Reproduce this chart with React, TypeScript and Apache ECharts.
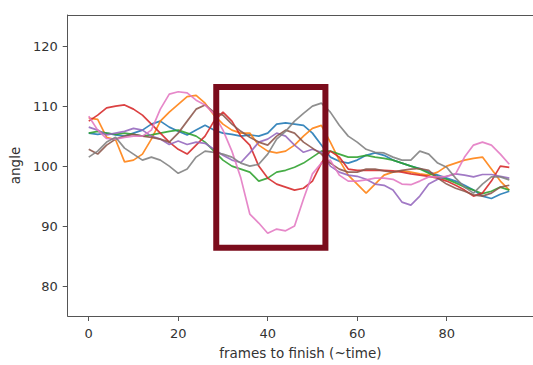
import React, { useEffect, useRef } from "react";
import * as echarts from "echarts";

const frames = [0, 2, 4, 6, 8, 10, 12, 14, 16, 18, 20, 22, 24, 26, 28, 30, 32, 34, 36, 38, 40, 42, 44, 46, 48, 50, 52, 54, 56, 58, 60, 62, 64, 66, 68, 70, 72, 74, 76, 78, 80, 82, 84, 86, 88, 90, 92, 94];

const blue = [105.5, 105.3, 105.5, 105.2, 105, 105.5, 106, 107, 107.5, 106.5, 105.8, 105.2, 106, 106.8, 106, 105.5, 105.3, 105, 105.2, 105, 105.5, 107, 107.2, 107, 106.8, 105.5, 103.5, 101.5, 100.8, 100.5, 101, 101.8, 102.2, 101.8, 101, 100.5, 100, 99.6, 99, 98.5, 98, 97.5, 96.8, 96, 95, 94.6, 95.3, 95.8];
const orange = [108, 107.8, 104.8, 104.4, 100.7, 101, 102, 104.5, 107.5, 109, 110.3, 111.6, 111.8, 110.5, 108.5, 107, 106, 105.5, 105.5, 103.5, 102.5, 102.2, 102.5, 103.5, 105, 106.3, 106.8, 104, 101, 98.5, 97, 95.5, 97, 98.5, 99, 99.2, 99, 98.7, 98.5, 99, 100, 100.5, 101, 101.3, 101.5, 99.5, 97.5, 96];
const green = [105.5, 105.8, 105.5, 105.3, 105.5, 105.3, 105, 105.2, 105.5, 105.8, 106, 105.5, 105, 104, 102.5, 101, 100, 99.5, 99, 97.5, 98, 99, 99.3, 99.8, 100.5, 101.5, 102.5, 102.5, 102, 101.5, 101.5, 101.8, 101.5, 101.3, 101, 100.5, 100, 99.5, 98.8, 98.2, 97.8, 97.2, 96.5, 96, 95.4, 95.8, 96.5, 96];
const red = [107.5, 108.5, 109.7, 110, 110.2, 109.5, 108.5, 107, 105.5, 104, 102.8, 102, 103.5, 105, 107.5, 109, 107.5, 105, 103.5, 100, 98, 97, 96.5, 96, 96.3, 97.5, 100.5, 102.5, 101.5, 99.5, 99.3, 99.3, 99.3, 99.3, 99.2, 99, 98.7, 98.5, 98.3, 98, 97.5, 96.8, 96, 95, 95.5, 97.5, 100, 99.8];
const purple = [106.5, 106, 105.2, 105.5, 105.8, 106.3, 106, 105, 104.5, 103.6, 104.2, 103.6, 104, 103.8, 102.8, 101.8, 101, 100.6, 102.2, 104, 104.5, 105.5, 105, 103.5, 102.3, 102.8, 102.3, 100, 99, 98.5, 98.3, 97.8, 97, 96.8, 96, 94, 93.5, 95, 97, 97.8, 98.3, 98.7, 98.5, 98.2, 98.6, 98.6, 98.3, 98];
const brown = [102.8, 102, 103.5, 104.5, 105, 105.3, 105, 104.8, 104.5, 104, 105.5, 107.5, 109.5, 110.2, 109, 108.5, 107, 105.8, 104.8, 104, 103.5, 105, 106, 105.5, 104, 103, 102, 100.5, 99.5, 99, 99, 99.5, 99.5, 99.2, 99, 99.3, 99.5, 99.6, 99.3, 98, 97, 96.3, 95.8, 95.2, 95, 95.5, 96.5, 96.8];
const pink = [108.3, 106, 104.6, 104.5, 104.8, 105, 105, 106, 109.5, 112, 112.4, 112.2, 111, 110.2, 108.7, 106, 102.5, 98, 92, 90.5, 88.8, 89.5, 89.2, 90, 94.5, 98.7, 100.5, 101, 98.5, 97.5, 97.5, 97.7, 98, 98, 97.8, 97, 96.9, 97.5, 98.2, 98.2, 98.3, 98.7, 101.5, 103.5, 104, 103.5, 102, 100.3];
const gray = [101.5, 102.5, 104, 104.8, 103, 102, 101, 101.5, 101, 100, 98.8, 99.5, 101.5, 102.5, 102.3, 102, 101.5, 100.5, 100, 100.3, 102, 104.5, 105.8, 107.5, 108.8, 110, 110.5, 109, 106.8, 105, 104, 102.8, 102.3, 102.2, 101.5, 101, 101, 102.5, 102, 100.5, 99.8, 98, 96.5, 95.5, 97, 98.2, 98.2, 97.7];

const seriesValues = [blue, orange, green, red, purple, brown, pink, gray];
const seriesColors = ["#1f77b4", "#ff7f0e", "#2ca02c", "#d62728", "#9467bd", "#8c564b", "#e377c2", "#7f7f7f"];

const xTicks = [0, 20, 40, 60, 80];
const yTicks = [80, 90, 100, 110, 120];

const boxX = [28.5, 52.9];
const boxY = [86.4, 113.2];

export default function App() {
  const ref = useRef<HTMLDivElement>(null);
  useEffect(() => {
    if (!ref.current) return;
    const chart = echarts.init(ref.current, null, { renderer: "svg" });
    const font = "DejaVu Sans";
    const lines = seriesValues.map((vals, i) => ({
      type: "line",
      data: frames.map((f, j) => [f, vals[j]]),
      symbol: "none",
      lineStyle: { color: seriesColors[i], width: 1.7, opacity: 0.88 },
      itemStyle: { color: seriesColors[i] },
      z: 2 + i,
    }));
    const box = {
      type: "line",
      data: [
        [boxX[0], boxY[1]],
        [boxX[1], boxY[1]],
        [boxX[1], boxY[0]],
        [boxX[0], boxY[0]],
        [boxX[0], boxY[1]],
      ],
      symbol: "none",
      lineStyle: { color: "#7b0c1c", width: 6, join: "miter", cap: "square" },
      z: 20,
    };
    chart.setOption({
      animation: false,
      grid: { left: 67, right: -1, top: 15, bottom: 44 },
      xAxis: [
        {
          type: "value",
          min: -4.7,
          max: 99.3,
          splitLine: { show: false },
          axisLine: { show: true, onZero: false, lineStyle: { color: "#555", width: 1 } },
          axisTick: { show: true, length: 5, customValues: xTicks, lineStyle: { color: "#555" } },
          axisLabel: { customValues: xTicks, color: "#333", fontFamily: font, fontSize: 13, margin: 11 },
          name: "frames to finish (~time)",
          nameLocation: "middle",
          nameGap: 30,
          nameTextStyle: { color: "#333", fontFamily: font, fontSize: 13.5 },
        },
        {
          type: "value",
          position: "top",
          min: -4.7,
          max: 99.3,
          splitLine: { show: false },
          axisLine: { show: true, onZero: false, lineStyle: { color: "#555", width: 1 } },
          axisTick: { show: false },
          axisLabel: { show: false },
        },
      ],
      yAxis: {
        type: "value",
        min: 75,
        max: 125.2,
        splitLine: { show: false },
        axisLine: { show: true, onZero: false, lineStyle: { color: "#555", width: 1 } },
        axisTick: { show: true, length: 5, customValues: yTicks, lineStyle: { color: "#555" } },
        axisLabel: { customValues: yTicks, color: "#333", fontFamily: font, fontSize: 13, margin: 10 },
        name: "angle",
        nameLocation: "middle",
        nameGap: 44,
        nameRotate: 90,
        nameTextStyle: { color: "#333", fontFamily: font, fontSize: 13.5 },
      },
      series: [...lines, box],
    });
    return () => chart.dispose();
  }, []);
  return <div ref={ref} style={{ width: 533, height: 365, position: "absolute", left: 0, top: 0 }} />;
}
